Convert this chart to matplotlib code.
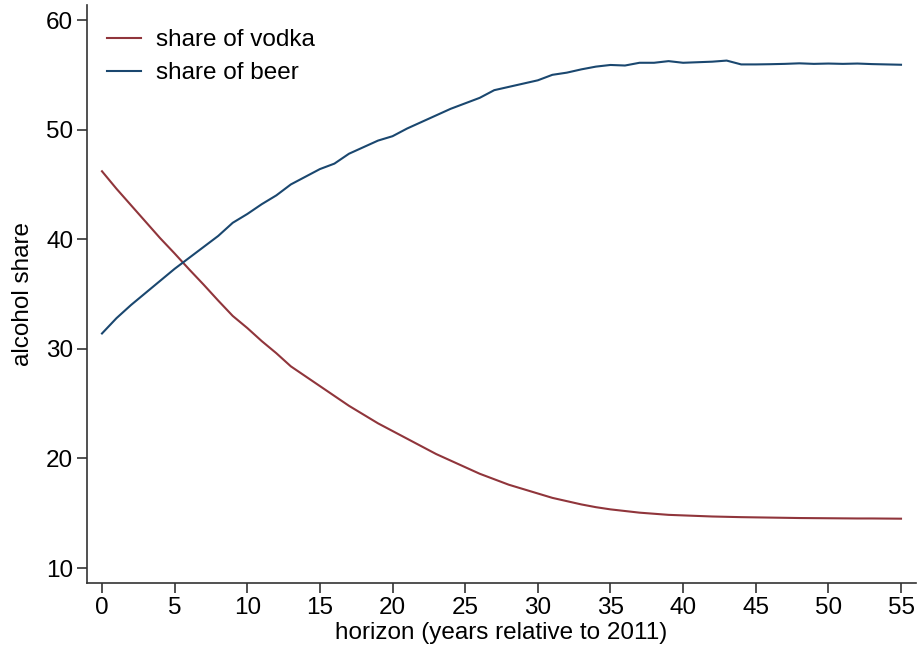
import matplotlib.pyplot as plt

plt.rcParams['font.family'] = ['Liberation Sans', 'DejaVu Sans']

horizon = list(range(56))

vodka = [46.2, 44.6, 43.1, 41.6, 40.1, 38.7, 37.25, 35.85, 34.4, 33.0,
         31.9, 30.7, 29.6, 28.4, 27.5, 26.6, 25.7, 24.8, 24.0, 23.2,
         22.5, 21.8, 21.1, 20.4, 19.8, 19.2, 18.6, 18.1, 17.6, 17.2,
         16.8, 16.4, 16.1, 15.8, 15.55, 15.35, 15.2, 15.05, 14.95, 14.85,
         14.8, 14.75, 14.7, 14.67, 14.64, 14.62, 14.6, 14.58, 14.56, 14.55,
         14.54, 14.53, 14.52, 14.52, 14.51, 14.5]

beer = [31.4, 32.8, 34.0, 35.1, 36.2, 37.3, 38.3, 39.3, 40.3, 41.5,
        42.3, 43.2, 44.0, 45.0, 45.7, 46.4, 46.9, 47.8, 48.4, 49.0,
        49.4, 50.1, 50.7, 51.3, 51.9, 52.4, 52.9, 53.6, 53.9, 54.2,
        54.5, 55.0, 55.2, 55.5, 55.75, 55.9, 55.85, 56.1, 56.1, 56.25,
        56.1, 56.15, 56.2, 56.3, 55.95, 55.95, 55.97, 56.0, 56.05, 56.0,
        56.03, 56.0, 56.03, 55.98, 55.95, 55.92]

x_ticks = list(range(0, 56, 5))
y_ticks = list(range(10, 61, 10))

fig = plt.figure(figsize=(9.19, 6.52), dpi=100)
ax = fig.add_axes([0.0947, 0.1058, 0.902, 0.8865])

ax.plot(horizon, vodka, color='#90353B', lw=1.5, label='share of vodka')
ax.plot(horizon, beer, color='#1A476F', lw=1.5, label='share of beer')

ax.set_xlim(-1.03, 56.03)
ax.set_ylim(8.63, 61.37)
ax.set_xticks(x_ticks)
ax.set_yticks(y_ticks)

for side in ['top', 'right']:
    ax.spines[side].set_visible(False)
for side in ['left', 'bottom']:
    ax.spines[side].set_color('#333333')
    ax.spines[side].set_linewidth(1.2)

ax.tick_params(axis='both', labelsize=17.5, length=7, width=1.2,
               color='#333333', pad=3)
ax.set_xlabel('horizon (years relative to 2011)', fontsize=17.5, labelpad=2)
ax.set_ylabel('alcohol share', fontsize=17.5, labelpad=9)

ax.legend(loc='upper left', frameon=False, fontsize=17.5,
          handlelength=1.4, handletextpad=0.6, labelspacing=0.45,
          borderaxespad=0.6, bbox_to_anchor=(-0.005, 1.0))

fig.savefig('out.png', dpi=100)
